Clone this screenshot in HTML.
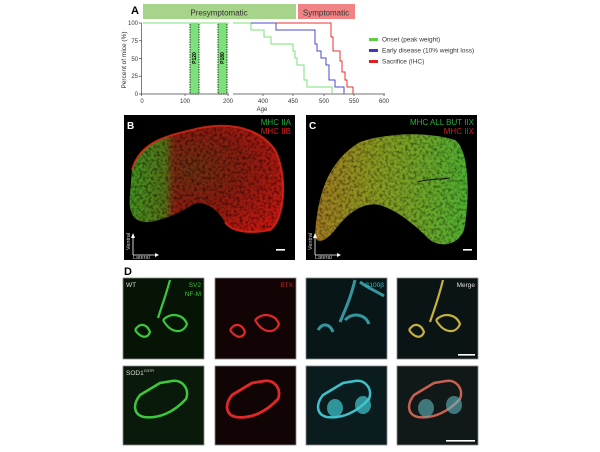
<!DOCTYPE html>
<html><head><style>
body{margin:0;background:#fff;width:600px;height:447px;overflow:hidden;font-family:"Liberation Sans",sans-serif}
</style></head><body>
<svg width="600" height="447" viewBox="0 0 600 447" xmlns="http://www.w3.org/2000/svg" font-family="Liberation Sans, sans-serif">
<defs>
<radialGradient id="gB" cx="0.4" cy="0.4" r="0.7"><stop offset="0" stop-color="#6a3010"/><stop offset="0.5" stop-color="#8a1c10"/><stop offset="1" stop-color="#c01810"/></radialGradient>
<linearGradient id="gB2" x1="0" y1="0" x2="1" y2="0"><stop offset="0" stop-color="#3aa020"/><stop offset="0.45" stop-color="#507a18"/><stop offset="0.6" stop-color="#8a2a10" stop-opacity="0"/></linearGradient>
<linearGradient id="gC" x1="0" y1="0" x2="1" y2="0"><stop offset="0" stop-color="#a07a20"/><stop offset="0.4" stop-color="#8a9a20"/><stop offset="1" stop-color="#50b030"/></linearGradient>
<filter id="tex" x="0" y="0" width="1" height="1">
<feTurbulence type="fractalNoise" baseFrequency="0.35" numOctaves="2" seed="3" result="n"/>
<feColorMatrix in="n" type="matrix" values="0 0 0 0 0  0 0 0 0 0  0 0 0 0 0  0 0 0 -2.2 1.3" result="m"/>
<feComposite in="m" in2="SourceGraphic" operator="in"/>
</filter>
<clipPath id="cB"><path d="M132,170 C140,140 170,135 200,128 C230,122 260,128 275,150 C288,175 285,220 270,230 C245,235 230,230 225,222 C215,205 200,200 192,205 C180,212 170,218 150,222 C135,223 128,215 130,195 Z"/></clipPath>
<clipPath id="cC"><path d="M315,235 C318,190 330,160 360,142 C390,132 430,132 455,140 C470,150 470,200 464,230 C458,245 442,248 430,240 C410,220 395,210 380,205 C365,202 350,210 335,230 C325,242 316,245 315,235 Z"/></clipPath>
</defs>
<!-- Panel A -->
<text x="131" y="14" font-size="11" font-weight="bold">A</text>
<rect x="143" y="4" width="153" height="15" fill="#a6d48a"/>
<text x="219" y="15.5" font-size="8" text-anchor="middle" fill="#333">Presymptomatic</text>
<rect x="298" y="4" width="57" height="15" fill="#f08484"/>
<text x="326" y="15.5" font-size="8" text-anchor="middle" fill="#333">Symptomatic</text>
<text transform="translate(126,60) rotate(-90)" font-size="6.5" text-anchor="middle" fill="#333">Percent of mice (%)</text>
<g font-size="6" fill="#333" text-anchor="end">
<text x="138" y="25">100</text><text x="138" y="43">75</text><text x="138" y="61">50</text><text x="138" y="78">25</text><text x="138" y="96">0</text></g>
<g stroke="#444" stroke-width="0.7" fill="none">
<line x1="141.5" y1="23" x2="141.5" y2="94"/>
<line x1="141.5" y1="94" x2="229" y2="94"/>
<line x1="233" y1="94" x2="385" y2="94"/>
<path d="M139 23h2.5M139 40.75h2.5M139 58.5h2.5M139 76.25h2.5M139 94h2.5"/>
<path d="M141.5 94v2M185 94v2M228 94v2M263 94v2M293 94v2M324 94v2M354 94v2M384 94v2"/>
</g>
<g font-size="6" fill="#333" text-anchor="middle">
<text x="142" y="103">0</text><text x="185" y="103">100</text><text x="228" y="103">200</text><text x="263" y="103">400</text><text x="293" y="103">450</text><text x="324" y="103">500</text><text x="354" y="103">550</text><text x="384" y="103">600</text>
<text x="262" y="111">Age</text></g>
<rect x="190" y="23" width="9" height="71" fill="#7de07d" stroke="#111" stroke-width="0.8" stroke-dasharray="1.5,1"/>
<rect x="218" y="23" width="9" height="71" fill="#7de07d" stroke="#111" stroke-width="0.8" stroke-dasharray="1.5,1"/>
<text transform="translate(196,58) rotate(-90)" font-size="5" font-weight="bold" text-anchor="middle">P120</text>
<text transform="translate(224,58) rotate(-90)" font-size="5" font-weight="bold" text-anchor="middle">P180</text>
<polyline fill="none" stroke="#7ee07e" stroke-width="1" points="143,23 229,23"/>
<polyline fill="none" stroke="#7ee07e" stroke-width="1" points="233,23 251,23 251,30 264,30 264,37 271,37 271,44 293,44 293,51 295,51 295,58 297,58 297,65 304,65 304,80 307,80 307,87 332,87 332,94"/>
<polyline fill="none" stroke="#4a4ad0" stroke-width="1" points="251,23 276,23 276,30 315,30 315,44 317,44 317,51 321,51 321,58 326,58 326,65 329,65 329,80 335,80 335,87 344,87 344,94"/>
<polyline fill="none" stroke="#e83030" stroke-width="1" points="276,23 331,23 331,37 333,37 333,51 340,51 340,61 342,61 342,72 345,72 345,80 347,80 347,87 353,87 353,94"/>
<g font-size="6.5" fill="#333">
<rect x="369" y="38" width="9" height="3" fill="#5cd040"/><text x="382" y="41.5">Onset (peak weight)</text>
<rect x="369" y="49" width="9" height="3" fill="#3a3ac0"/><text x="382" y="52.5">Early disease (10% weight loss)</text>
<rect x="369" y="60" width="9" height="3" fill="#e02020"/><text x="382" y="63.5">Sacrifice (IHC)</text>
</g>
<!-- Panel B -->
<rect x="124" y="115" width="171" height="145" fill="#000"/>
<path d="M132,170 C140,140 170,135 200,128 C230,122 260,128 275,150 C288,175 285,220 270,230 C245,235 230,230 225,222 C215,205 200,200 192,205 C180,212 170,218 150,222 C135,223 128,215 130,195 Z" fill="url(#gB)"/>
<path d="M132,170 C140,140 170,135 200,128 L210,128 C205,160 205,190 200,200 C185,210 170,218 150,222 C135,223 128,215 130,195 Z" fill="url(#gB2)" opacity="0.9"/>
<rect x="124" y="115" width="171" height="145" fill="#000" filter="url(#tex)" clip-path="url(#cB)" opacity="0.6"/>
<path d="M132,170 C140,140 170,135 200,128 C230,122 260,128 275,150 C288,175 285,220 270,230 C245,235 230,230 225,222" fill="none" stroke="#e02818" stroke-width="2" opacity="0.8"/>
<text x="127" y="129" font-size="10" font-weight="bold" fill="#fff">B</text>
<text x="291" y="125" font-size="8" fill="#22b040" text-anchor="end">MHC IIA</text>
<text x="291" y="134" font-size="8" fill="#d02020" text-anchor="end">MHC IIB</text>
<path d="M133,255 V236 M133,255 H157" stroke="#fff" stroke-width="0.8"/>
<path d="M131,238 L133,233 L135,238 Z M155,253 L159,255 L155,257 Z" fill="#fff"/>
<text transform="translate(130,250) rotate(-90)" font-size="5.5" fill="#ccc">Ventral</text>
<text x="133" y="259" font-size="5.5" fill="#ccc">Lateral</text>
<rect x="276" y="249" width="9" height="1.6" fill="#fff"/>
<!-- Panel C -->
<rect x="306" y="115" width="171" height="145" fill="#000"/>
<path d="M315,235 C318,190 330,160 360,142 C390,132 430,132 455,140 C470,150 470,200 464,230 C458,245 442,248 430,240 C410,220 395,210 380,205 C365,202 350,210 335,230 C325,242 316,245 315,235 Z" fill="url(#gC)"/>
<rect x="306" y="115" width="171" height="145" fill="#000" filter="url(#tex)" clip-path="url(#cC)" opacity="0.5"/>
<path d="M418,182 C430,178 440,180 450,178" stroke="#111" stroke-width="1" fill="none"/>
<text x="309" y="129" font-size="10" font-weight="bold" fill="#fff">C</text>
<text x="474" y="125" font-size="8" fill="#22b040" text-anchor="end">MHC ALL BUT IIX</text>
<text x="474" y="134" font-size="8" fill="#d02020" text-anchor="end">MHC IIX</text>
<path d="M315,255 V236 M315,255 H339" stroke="#fff" stroke-width="0.8"/>
<path d="M313,238 L315,233 L317,238 Z M337,253 L341,255 L337,257 Z" fill="#fff"/>
<text transform="translate(312,250) rotate(-90)" font-size="5.5" fill="#ccc">Ventral</text>
<text x="315" y="259" font-size="5.5" fill="#ccc">Lateral</text>
<rect x="463" y="249" width="9" height="1.6" fill="#fff"/>
<!-- Panel D -->
<text x="124" y="275" font-size="11" font-weight="bold">D</text>
<g stroke="#888" stroke-width="0.8">
<rect x="123" y="278" width="81" height="81" fill="#061406"/>
<rect x="215" y="278" width="81" height="81" fill="#120404"/>
<rect x="306" y="278" width="81" height="81" fill="#081618"/>
<rect x="397" y="278" width="81" height="81" fill="#0a1414"/>
<rect x="123" y="366" width="81" height="79" fill="#0a1a0a"/>
<rect x="215" y="366" width="81" height="79" fill="#100404"/>
<rect x="306" y="366" width="81" height="79" fill="#0a1c1e"/>
<rect x="397" y="366" width="81" height="79" fill="#101818"/>
</g>
<g fill="none" stroke-width="2.2">
<path d="M170,280 C166,295 162,305 158,318 M135,330 c5,-8 12,-6 15,2 c-3,8 -10,5 -15,-2 M163,320 c8,-8 20,-6 24,4 c-4,10 -16,10 -24,-4" stroke="#3cc83c"/>
<path d="M230,330 c5,-8 12,-6 15,2 c-3,8 -10,5 -15,-2 M255,320 c8,-8 20,-6 24,4 c-4,10 -16,10 -24,-4" stroke="#e02828"/>
<path d="M355,280 C350,300 345,310 340,322 M318,330 c5,-8 12,-6 15,2 M345,320 c8,-8 20,-6 24,4 M360,282 c8,6 14,8 24,14" stroke="#40b8c0" stroke-width="3" opacity="0.8"/>
<path d="M443,280 C438,300 434,310 430,322 M409,330 c5,-8 12,-6 15,2 c-3,8 -10,5 -15,-2 M436,320 c8,-8 20,-6 24,4 c-4,10 -16,10 -24,-4" stroke="#c8b040"/>
<path d="M160,383 l-20,12 c-8,10 -6,20 4,22 c15,2 30,-5 42,-18 c4,-10 -4,-20 -14,-18 z" stroke="#3cc83c" stroke-width="2.5"/>
<path d="M252,383 l-20,12 c-8,10 -6,20 4,22 c15,2 30,-5 42,-18 c4,-10 -4,-20 -14,-18 z" stroke="#e02828" stroke-width="2.8"/>
<path d="M343,383 l-20,12 c-8,10 -6,20 4,22 c15,2 30,-5 42,-18 c4,-10 -4,-20 -14,-18 z" stroke="#40c0c8" stroke-width="2.5"/>
<path d="M434,383 l-20,12 c-8,10 -6,20 4,22 c15,2 30,-5 42,-18 c4,-10 -4,-20 -14,-18 z" stroke="#c86050" stroke-width="2.5"/>
</g>
<ellipse cx="335" cy="408" rx="8" ry="9" fill="#40c8d0" opacity="0.7"/><ellipse cx="363" cy="405" rx="8" ry="9" fill="#40c8d0" opacity="0.7"/>
<ellipse cx="426" cy="408" rx="8" ry="9" fill="#60b8c0" opacity="0.6"/><ellipse cx="454" cy="405" rx="8" ry="9" fill="#60b8c0" opacity="0.6"/>
<g font-size="6.5">
<text x="126" y="287" fill="#ddd">WT</text>
<text x="201" y="287" fill="#3cc03c" text-anchor="end">SV2</text>
<text x="201" y="296" fill="#3cc03c" text-anchor="end">NF-M</text>
<text x="293" y="287" fill="#d02020" text-anchor="end">BTX</text>
<text x="384" y="287" fill="#40b8c0" text-anchor="end">S100β</text>
<text x="475" y="287" fill="#ddd" text-anchor="end">Merge</text>
<text x="126" y="375" fill="#ddd">SOD1<tspan font-size="4" dy="-3">G37R</tspan></text>
</g>
<rect x="458" y="354" width="17" height="1.6" fill="#fff"/>
<rect x="446" y="440" width="29" height="1.6" fill="#fff"/>
</svg>
</body></html>
